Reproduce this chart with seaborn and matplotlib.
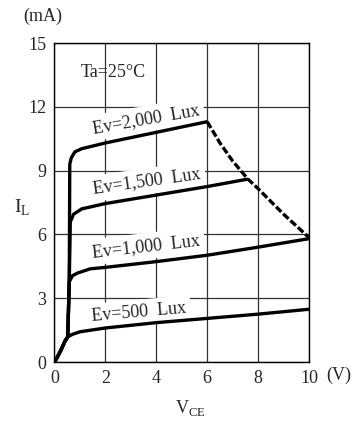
import matplotlib
matplotlib.use("Agg")
import matplotlib.pyplot as plt
import seaborn as sns
import pandas as pd

# ---- data ----
vce_500 = [0, 0.1, 0.25, 0.42, 0.52, 0.7, 1.0, 2, 4, 6, 8, 10]
il_500 = [0, 0.2, 0.55, 1.0, 1.18, 1.3, 1.42, 1.6, 1.85, 2.05, 2.25, 2.48]

vce_1000 = [0, 0.1, 0.25, 0.42, 0.52, 0.58, 0.7, 0.9, 1.4, 2, 4, 6, 8, 10]
il_1000 = [0, 0.2, 0.55, 1.0, 1.18, 3.77, 4.05, 4.18, 4.38, 4.45, 4.72, 5.02, 5.4, 5.8]

vce_1500 = [0, 0.1, 0.25, 0.42, 0.52, 0.58, 0.62, 0.75, 1.07, 2, 4, 6, 7.6]
il_1500 = [0, 0.2, 0.55, 1.0, 1.18, 3.77, 6.59, 6.95, 7.2, 7.45, 7.85, 8.25, 8.6]

vce_2000 = [0, 0.1, 0.25, 0.42, 0.52, 0.58, 0.6, 0.66, 0.8, 1.07, 2, 4, 6]
il_2000 = [0, 0.2, 0.55, 1.0, 1.18, 3.77, 9.3, 9.6, 9.88, 10.03, 10.3, 10.8, 11.3]

vce_limit = [6, 6.5, 7, 7.6, 8, 8.5, 9, 9.5, 10]
il_limit = [11.3, 10.3, 9.45, 8.6, 8.15, 7.55, 6.95, 6.4, 5.85]

series_labels = ["Ev=2,000  Lux", "Ev=1,500  Lux", "Ev=1,000  Lux", "Ev=500  Lux"]
label_x = [3.6, 3.64, 3.6, 3.32]
label_y = [11.43, 8.5, 5.45, 2.32]
label_rot = [10, 8, 6.5, 5]

x_ticks = [0, 2, 4, 6, 8, 10]
y_ticks = [0, 3, 6, 9, 12, 15]

# ---- style ----
sns.set_style("white")
FONT = ["Liberation Serif", "DejaVu Serif"]
plt.rcParams["font.family"] = FONT
plt.rcParams["mathtext.fontset"] = "custom"
plt.rcParams["mathtext.rm"] = "Liberation Serif"
FS = 13

fig = plt.figure(figsize=(3.52, 4.23), dpi=100)
ax = fig.add_axes([54.5 / 352, 1 - 362 / 423, (309 - 54.5) / 352, (362 - 43) / 423])

curves = [(vce_2000, il_2000), (vce_1500, il_1500), (vce_1000, il_1000), (vce_500, il_500)]
for vx, vy in curves:
    df = pd.DataFrame({"VCE": vx, "IL": vy})
    sns.lineplot(data=df, x="VCE", y="IL", sort=False, ax=ax, color="black",
                 lw=2.4, solid_capstyle="butt", zorder=3)

df_lim = pd.DataFrame({"VCE": vce_limit, "IL": il_limit})
sns.lineplot(data=df_lim, x="VCE", y="IL", sort=False, ax=ax, color="black",
             lw=2.4, linestyle=(0, (2.2, 0.8)), zorder=3)

ax.set_xlim(0, 10)
ax.set_ylim(0, 15)
ax.set_xticks(x_ticks)
ax.set_yticks(y_ticks)
ax.set_xticklabels([str(t) for t in x_ticks], fontsize=FS)
ax.set_yticklabels([str(t) for t in y_ticks], fontsize=FS)
ax.tick_params(length=0, pad=6)
ax.set_xlabel("")
ax.set_ylabel("")
ax.set_axisbelow(True)
ax.grid(True, color="#333333", lw=0.9)
for s in ax.spines.values():
    s.set_color("black")
    s.set_linewidth(1.0)

for txt, tx, ty, rot in zip(series_labels, label_x, label_y, label_rot):
    ax.text(tx, ty, txt, fontsize=FS, rotation=rot, rotation_mode="anchor",
            ha="center", va="center", zorder=2,
            bbox=dict(boxstyle="square,pad=0.25", fc="white", ec="none"))

ax.text(2.3, 13.6, "Ta=25°C", fontsize=FS, ha="center", va="center", zorder=2)

fig.text(43 / 352, 1 - 16 / 423, "(mA)", fontsize=FS, ha="center", va="center")
fig.text(339 / 352, 1 - 375 / 423, "(V)", fontsize=FS, ha="center", va="center")
fig.text(22 / 352, 1 - 208 / 423, r"I$_\mathregular{L}$", fontsize=FS + 1, ha="center", va="center")
fig.text(190 / 352, 1 - 408 / 423, r"V$_\mathregular{CE}$", fontsize=FS, ha="center", va="center")

fig.savefig("out.png", dpi=100)
